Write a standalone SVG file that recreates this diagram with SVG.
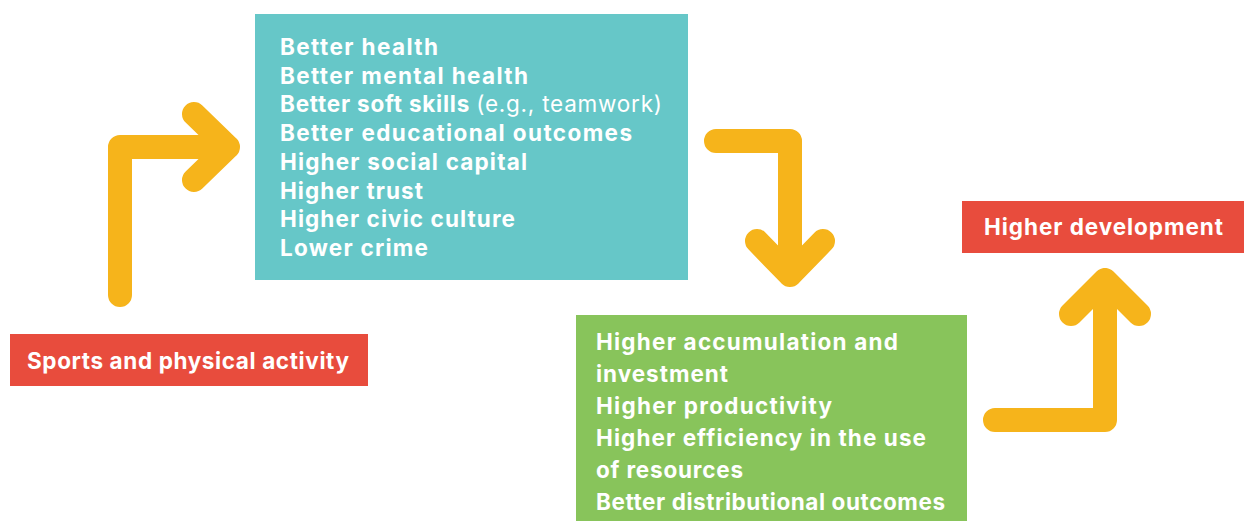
<svg xmlns="http://www.w3.org/2000/svg" width="1244" height="521" viewBox="0 0 1244 521">
  <style>
    .lbl { font-family: Inter, Lato, "Liberation Sans", sans-serif; font-weight: 700; font-size: 22.5px; fill: #ffffff; font-variant-ligatures: none; }
    .thin { font-weight: 400; }
    .flow { fill: none; stroke: #F6B41B; stroke-width: 24; stroke-linecap: round; stroke-linejoin: round; }
  </style>
  <rect width="1244" height="521" fill="#ffffff"/>

  <g id="connectors">
    <!-- sports -> social outcomes -->
    <path class="flow" d="M120,295 L120,147 L228,147 M194,114 L228,147 L194,180"/>
    <!-- social outcomes -> economic outcomes -->
    <path class="flow" d="M716,141 L790,141 L790,275 M757,241 L790,275 L823,241"/>
    <!-- economic outcomes -> development -->
    <path class="flow" d="M995,420 L1105,420 L1105,280 M1071,314 L1105,280 L1139,314"/>
  </g>

  <g id="node-sports">
    <rect x="10" y="334" width="358" height="52" fill="#E84C3D"/>
    <text class="lbl" x="27" y="369" textLength="322" lengthAdjust="spacing">Sports and physical activity</text>
  </g>

  <g id="node-social">
    <rect x="255" y="14" width="433" height="266" fill="#66C7C8"/>
    <text class="lbl" x="280" y="55" textLength="158" lengthAdjust="spacing">Better health</text>
    <text class="lbl" x="280" y="83.7" textLength="248" lengthAdjust="spacing">Better mental health</text>
    <text class="lbl" x="280" y="112.4" textLength="382" lengthAdjust="spacing">Better soft skills <tspan class="thin">(e.g., teamwork)</tspan></text>
    <text class="lbl" x="280" y="141.1" textLength="352" lengthAdjust="spacing">Better educational outcomes</text>
    <text class="lbl" x="280" y="169.8" textLength="247" lengthAdjust="spacing">Higher social capital</text>
    <text class="lbl" x="280" y="198.5" textLength="143" lengthAdjust="spacing">Higher trust</text>
    <text class="lbl" x="280" y="227.2" textLength="235" lengthAdjust="spacing">Higher civic culture</text>
    <text class="lbl" x="280" y="255.9" textLength="148" lengthAdjust="spacing">Lower crime</text>
  </g>

  <g id="node-economic">
    <rect x="576" y="315" width="391" height="206" fill="#88C45B"/>
    <text class="lbl" x="596" y="350" textLength="302" lengthAdjust="spacing">Higher accumulation and</text>
    <text class="lbl" x="596" y="382" textLength="132" lengthAdjust="spacing">investment</text>
    <text class="lbl" x="596" y="414" textLength="236" lengthAdjust="spacing">Higher productivity</text>
    <text class="lbl" x="596" y="446" textLength="330" lengthAdjust="spacing">Higher efficiency in the use</text>
    <text class="lbl" x="596" y="478" textLength="147" lengthAdjust="spacing">of resources</text>
    <text class="lbl" x="596" y="510" textLength="349" lengthAdjust="spacing">Better distributional outcomes</text>
  </g>

  <g id="node-development">
    <rect x="962" y="201" width="282" height="52" fill="#E84C3D"/>
    <text class="lbl" x="984" y="235" textLength="239" lengthAdjust="spacing">Higher development</text>
  </g>
</svg>
